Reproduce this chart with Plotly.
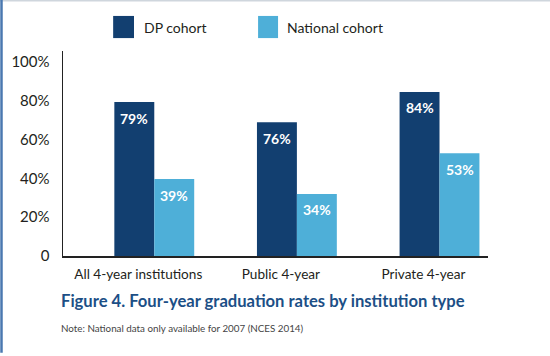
import plotly.graph_objects as go

categories = ["All 4-year institutions", "Public 4-year", "Private 4-year"]
dp_values = [79.4, 69, 84.6]          # bar heights as drawn
dp_labels = ["79%", "76%", "84%"]
nat_values = [39.7, 32, 53]
nat_labels = ["39%", "34%", "53%"]
series_names = ["DP cohort", "National cohort"]
ytick_vals = [0, 20, 40, 60, 80, 100]
ytick_text = ["0", "20%", "40%", "60%", "80%", "100%"]
title_text = "Figure 4. Four-year graduation rates by institution type"
note_text = "Note: National data only available for 2007 (NCES 2014)"

DP_COLOR = "#123f70"
NAT_COLOR = "#4eafd8"
TEXT = "#231f20"
FONT = "Lato, 'Open Sans', sans-serif"

fig = go.Figure()
fig.add_trace(go.Bar(x=categories, y=dp_values, name=series_names[0],
                     marker=dict(color=DP_COLOR, line=dict(width=0)),
                     showlegend=False, hoverinfo="skip"))
fig.add_trace(go.Bar(x=categories, y=nat_values, name=series_names[1],
                     marker=dict(color=NAT_COLOR, line=dict(width=0)),
                     showlegend=False, hoverinfo="skip"))

annotations = []
for vals, labs, shift in [(dp_values, dp_labels, -20), (nat_values, nat_labels, 20)]:
    for c, v, t in zip(categories, vals, labs):
        annotations.append(dict(x=c, y=v, xref="x", yref="y", text=t, showarrow=False,
                                xshift=shift, yshift=-16, yanchor="middle",
                                font=dict(family=FONT, size=14, color="white", weight="bold")))

# title & note
annotations.append(dict(x=0, y=-0.218, xref="paper", yref="paper", xanchor="left", yanchor="middle",
                        xshift=-4, text=title_text, showarrow=False,
                        font=dict(family=FONT, size=16.6, color="#1c4f86", weight="bold")))
annotations.append(dict(x=0, y=-0.35, xref="paper", yref="paper", xanchor="left", yanchor="middle",
                        xshift=-4, text=note_text, showarrow=False,
                        font=dict(family=FONT, size=9.8, color="#444444")))

# custom legend (large squares)
shapes = []
legend_items = [(series_names[0], DP_COLOR, 0.118, 0.167, 0.186),
                (series_names[1], NAT_COLOR, 0.459, 0.506, 0.522)]
for name, col, x0, x1, tx in legend_items:
    shapes.append(dict(type="rect", xref="paper", yref="paper", x0=x0, x1=x1, y0=1.063, y1=1.171,
                       fillcolor=col, line=dict(width=0)))
    annotations.append(dict(x=tx, y=1.117, xref="paper", yref="paper", xanchor="left", yanchor="middle",
                            text=name, showarrow=False, font=dict(family=FONT, size=14, color=TEXT)))

# page frame lines
shapes.append(dict(type="line", xref="paper", yref="paper", x0=-0.2, x1=1.2, y0=1.246, y1=1.246,
                   line=dict(color="#cfd6dd", width=2)))
shapes.append(dict(type="line", xref="paper", yref="paper", x0=-0.1447, x1=-0.1447, y0=-0.472, y1=1.25,
                   line=dict(color="#4a78b0", width=2.5)))

fig.update_layout(
    width=550, height=356,
    margin=dict(l=63, r=62, t=51, b=100),
    paper_bgcolor="white", plot_bgcolor="white",
    barmode="group", bargap=0.44, bargroupgap=0,
    font=dict(family=FONT, size=15, color=TEXT),
    xaxis=dict(type="category", range=[-0.64, 2.34], showline=True, linecolor="#222222", linewidth=1.5,
               ticks="", showgrid=False, zeroline=False, ticklabelshift=-16, ticklabelstandoff=5,
               tickfont=dict(family=FONT, size=13.6, color=TEXT), fixedrange=True),
    yaxis=dict(range=[0, 105.7], showline=True, linecolor="#222222", linewidth=1.5, ticks="",
               showgrid=False, zeroline=False, tickvals=ytick_vals, ticktext=ytick_text,
               ticklabelstandoff=9, tickfont=dict(family=FONT, size=15, color=TEXT), fixedrange=True),
    annotations=annotations, shapes=shapes,
    showlegend=False,
)

fig.write_html("out.html", config={"displayModeBar": False, "staticPlot": True},
               post_script="document.body.style.margin='0';document.body.style.overflow='hidden';")
